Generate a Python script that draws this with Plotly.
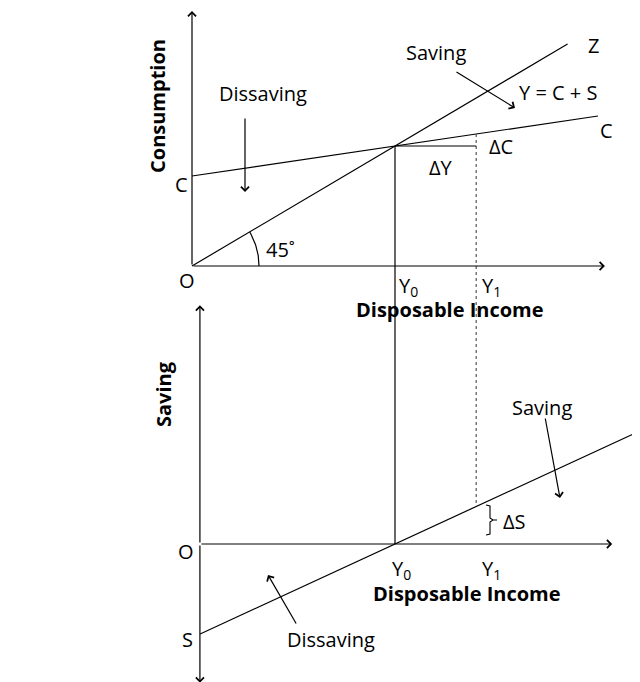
import numpy as np
import plotly.graph_objects as go

# ---------------- data (economic units) ----------------
Y0 = 100            # break-even income
Y1 = 140            # higher income level
autonomous_consumption = 75
mpc = 0.25

consumption_income = [0, 100, 200]
consumption_values = [75, 100, 125]

line45_income = [0, 100, 185]
line45_values = [0, 100, 185]

saving_income = [4, 100, 140, 218]
saving_values = [-72, 0, 30, 88.5]

x_axis_top_end = 203.4
y_axis_top_end = 212.5
x_axis_bot_start = 3.9
x_axis_bot_end = 207
y_axis_bot_top = 191
y_axis_bot_bottom = -111

# ---------------- geometry ----------------
W, H = 640, 682
OFF = 8  # page body margin: screen px = figure px + OFF
XR = [-(192 - OFF) / 2.03, (W - 192 + OFF) / 2.03]
YR_TOP = [(266 - OFF - H) / 1.2, (266 - OFF) / 1.2]
YR_BOT = [(544 - OFF - H) / 1.25, (544 - OFF) / 1.25]


def bot_to_top(s):
    frac = (s - YR_BOT[0]) / (YR_BOT[1] - YR_BOT[0])
    return YR_TOP[0] + frac * (YR_TOP[1] - YR_TOP[0])


def px2x(px):
    return XR[0] + (px - OFF) / W * (XR[1] - XR[0])


def py2top(py):
    return YR_TOP[1] - (py - OFF) / H * (YR_TOP[1] - YR_TOP[0])


def py2bot(py):
    return YR_BOT[1] - (py - OFF) / H * (YR_BOT[1] - YR_BOT[0])


FONT = "Open Sans"
FS = 20
BLACK = "black"

fig = go.Figure()


def line(x, y, yaxis="y", dash="solid", color=BLACK, width=1.2):
    fig.add_trace(go.Scatter(x=x, y=y, yaxis=yaxis, mode="lines",
                             line=dict(color=color, width=width, dash=dash),
                             hoverinfo="skip", showlegend=False))


# consumption function and 45-degree line
line(consumption_income, consumption_values)
line(line45_income, line45_values)

# Y0 vertical (solid) from consumption point to bottom x-axis
line([Y0, Y0], [100, bot_to_top(0)])
# Y1 vertical (dotted) from C-line to S-line
c_at_y1 = autonomous_consumption + mpc * Y1
s_at_y1 = -autonomous_consumption + (1 - mpc) * Y1
line([Y1, Y1], [c_at_y1, bot_to_top(s_at_y1)], dash="dot", color="#555555", width=1.2)
# Delta Y horizontal
line([Y0, Y1], [100, 100])

# saving function
line(saving_income, saving_values, yaxis="y2")

# 45 degree arc
t = np.linspace(0, np.arctan(1.2 / 2.03), 30)
r = 67
line(r * np.cos(t) / 2.03, r * np.sin(t) / 1.2)

# Delta S brace
bx = [486, 490, 490, 493, 497, 493, 490, 490, 486]
by = [505, 506, 518, 520, 520, 520, 522, 534, 535]
line([px2x(v) for v in bx], [py2bot(v) for v in by], yaxis="y2", width=1.1)

annotations = []


def arrow(x, y, ax, ay, yref="y", head=4):
    annotations.append(dict(x=x, y=y, ax=ax, ay=ay, xref="x", yref=yref,
                            axref="x", ayref=yref, text="", showarrow=True,
                            arrowhead=head, arrowsize=1.3, arrowwidth=1.2,
                            arrowcolor=BLACK, standoff=0, startstandoff=0))


# axes
arrow(0, y_axis_top_end, 0, 0)
arrow(x_axis_top_end, 0, 0, 0)
arrow(x_axis_bot_start, y_axis_bot_top, x_axis_bot_start, 0, yref="y2")
arrow(x_axis_bot_start, y_axis_bot_bottom, x_axis_bot_start, 0, yref="y2")
arrow(x_axis_bot_end, 0, x_axis_bot_start, 0, yref="y2")

# pointer arrows (pixel positions -> data)
arrow(px2x(245), py2top(192), px2x(245), py2top(117))
arrow(px2x(515), py2top(108), px2x(455), py2top(71))
arrow(px2x(560), py2bot(498), px2x(545), py2bot(417), yref="y2")
arrow(px2x(268), py2bot(575), px2x(297), py2bot(625), yref="y2")


def lab(px, py, text, bold=False, angle=0, size=FS):
    annotations.append(dict(x=(px - OFF) / W, y=1 - (py - OFF) / H,
                            xref="paper", yref="paper",
                            text=f"<b>{text}</b>" if bold else text,
                            showarrow=False, textangle=angle,
                            xanchor="center", yanchor="middle",
                            font=dict(family=FONT, size=size, color=BLACK)))


# top panel labels
lab(158, 106, "Consumption", bold=True, angle=-90)
lab(263, 93, "Dissaving")
lab(181, 184, "C")
lab(187, 280, "O")
lab(280, 249, "45˚")
lab(436, 53, "Saving")
lab(593, 46, "Z")
lab(558, 92, "Y = C + S")
lab(606, 130, "C")
lab(501, 146, "ΔC")
lab(441, 167, "ΔY")
lab(408, 286, "Y<sub>0</sub>")
lab(491, 286, "Y<sub>1</sub>")
lab(450, 309, "Disposable Income", bold=True)

# bottom panel labels
lab(163, 394, "Saving", bold=True, angle=-90)
lab(186, 551, "O")
lab(187, 639, "S")
lab(331, 639, "Dissaving")
lab(401, 569, "Y<sub>0</sub>")
lab(491, 569, "Y<sub>1</sub>")
lab(467, 593, "Disposable Income", bold=True)
lab(542, 407, "Saving")
lab(514, 521, "ΔS")
lab(646, 442, "S")

fig.update_layout(
    width=W, height=H,
    margin=dict(l=0, r=0, t=0, b=0),
    paper_bgcolor="white", plot_bgcolor="white",
    showlegend=False,
    xaxis=dict(range=XR, visible=False, domain=[0, 1], fixedrange=True),
    yaxis=dict(range=YR_TOP, visible=False, domain=[0, 1], fixedrange=True),
    yaxis2=dict(range=YR_BOT, visible=False, domain=[0, 1], overlaying="y",
                fixedrange=True),
    annotations=annotations,
)

fig.write_html("out.html", config={"displayModeBar": False})
